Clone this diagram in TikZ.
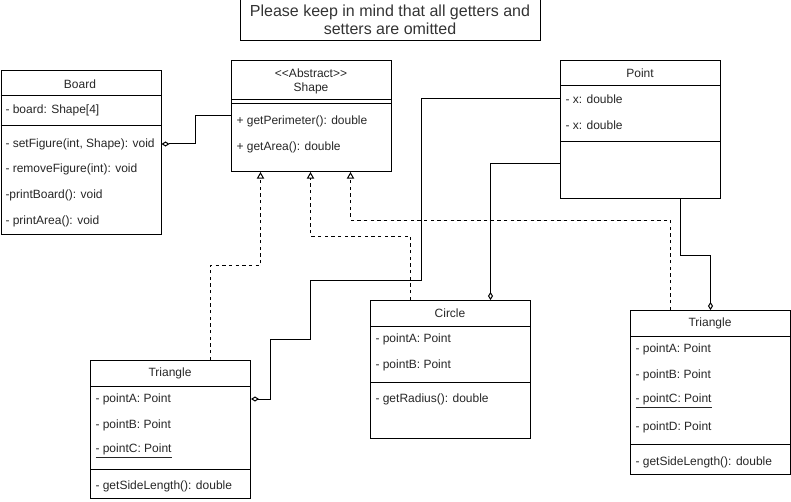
\documentclass[tikz,border=0pt]{standalone}
\usepackage{fontspec}
\setmainfont{Liberation Sans}
\usetikzlibrary{arrows.meta,positioning}

\tikzset{
  cls/.style={draw, anchor=north west, minimum width=120pt, inner sep=0pt},
  head/.style={anchor=center, inner sep=0pt, text=black!85, font=\fontsize{9}{11}\selectfont},
  row/.style={anchor=west, inner sep=0pt, text=black!85, font=\fontsize{9}{11}\selectfont},
  agg/.style={-{Diamond[open,length=6pt,width=3.8pt]}},
  real/.style={dash pattern=on 2.5pt off 2.5pt, -{Triangle[open,length=5pt,width=5.5pt]}},
}

\begin{document}
\begin{tikzpicture}[x=0.75pt, y=-0.75pt, line width=0.75pt]
\useasboundingbox (0,0) rectangle (791,502);

% Note on top
\node[draw, anchor=north, minimum width=225pt, minimum height=30.75pt, align=center,
  text=black!80, font=\fontsize{12}{13.5}\selectfont] (note) at (390,-1)
  {Please keep in mind that all getters and\\setters are omitted};

% Board
\node[cls, minimum height=123pt] (board) at (0.5,70) {};
\node[head] (bTitle) at (80,84) {Board};
\draw (0.5,96) -- +(160,0);
\node[row] (bArr) at (5,110) {- board: Shape[4]};
\draw (0.5,126) -- +(160,0);
\node[row] (bSet) at (5,144) {- setFigure(int, Shape): void};
\node[row] (bRem) at (5,169) {- removeFigure(int): void};
\node[row] (bPrint) at (5,195) {-printBoard(): void};
\node[row] (bArea) at (5,221) {- printArea(): void};

% Shape
\node[cls, minimum height=83.25pt] (shape) at (231,60) {};
\node[head] (sStereo) at (311,73) {{<}{<}Abstract{>}{>}};
\node[head] (sTitle) at (311,88) {Shape};
\draw (231,100) -- +(160,0);
\draw (231,104) -- +(160,0);
\node[row] (sPer) at (236,121) {+ getPerimeter(): double};
\node[row] (sArea) at (236,147) {+ getArea(): double};

% Point
\node[cls, minimum height=103.5pt] (point) at (560,60) {};
\node[head] (pTitle) at (640,73) {Point};
\draw (560,86) -- +(160,0);
\node[row] (pX1) at (565,99) {- x: double};
\node[row] (pX2) at (565,125) {- x: double};
\draw (560,142) -- +(160,0);
\coordinate (pM) at (560,164);

% Circle
\node[cls, minimum height=103.5pt] (circle) at (370,300) {};
\node[head] (cTitle) at (450,313) {Circle};
\draw (370,326) -- +(160,0);
\node[row] (cA) at (375,339) {- pointA: Point};
\node[row] (cB) at (375,365) {- pointB: Point};
\draw (370,382) -- +(160,0);
\node[row] (cRad) at (375,399) {- getRadius(): double};

% Triangle (left)
\node[cls, minimum height=103.5pt] (tri1) at (90,360) {};
\node[head] (t1Title) at (170,373) {Triangle};
\draw (90,386) -- +(160,0);
\node[row] (t1A) at (95,399) {- pointA: Point};
\node[row] (t1B) at (95,425) {- pointB: Point};
\node[row] (t1C) at (95,451) {\underline{- pointC: Point}};
\draw (90,469) -- +(160,0);
\node[row] (t1Len) at (95,486) {- getSideLength(): double};

% Triangle (right)
\node[cls, minimum height=123pt] (tri2) at (630,310) {};
\node[head] (t2Title) at (710,323) {Triangle};
\draw (630,336) -- +(160,0);
\node[row] (t2A) at (635,349) {- pointA: Point};
\node[row] (t2B) at (635,375) {- pointB: Point};
\node[row] (t2C) at (635,401) {\underline{- pointC: Point}};
\node[row] (t2D) at (635,427) {- pointD: Point};
\draw (630,444) -- +(160,0);
\node[row] (t2Len) at (635,462) {- getSideLength(): double};

% Inheritance
\draw[real] ([xshift=30pt]tri1.north) -- ++(0,-95) -| ([xshift=-38.25pt]shape.south);
\draw[real] ([xshift=-30pt]circle.north) -- ++(0,-64) -| ([xshift=-0.75pt]shape.south);
\draw[real] ([xshift=-30pt]tri2.north) -- ++(0,-90) -| ([xshift=29.25pt]shape.south);

% Aggregation
\draw[agg] (shape.west) -- ++(-36,0) |- (board.east |- bSet);
\draw[agg] (point.west |- pX1) -| (421,280) -| (310,339) -| (270,399) -- (tri1.east |- t1A);
\draw[agg] (pM) -| ([xshift=30pt]circle.north);
\draw[agg] ([xshift=30pt]point.south) -- ++(0,56) -| (tri2.north);
\end{tikzpicture}
\end{document}
